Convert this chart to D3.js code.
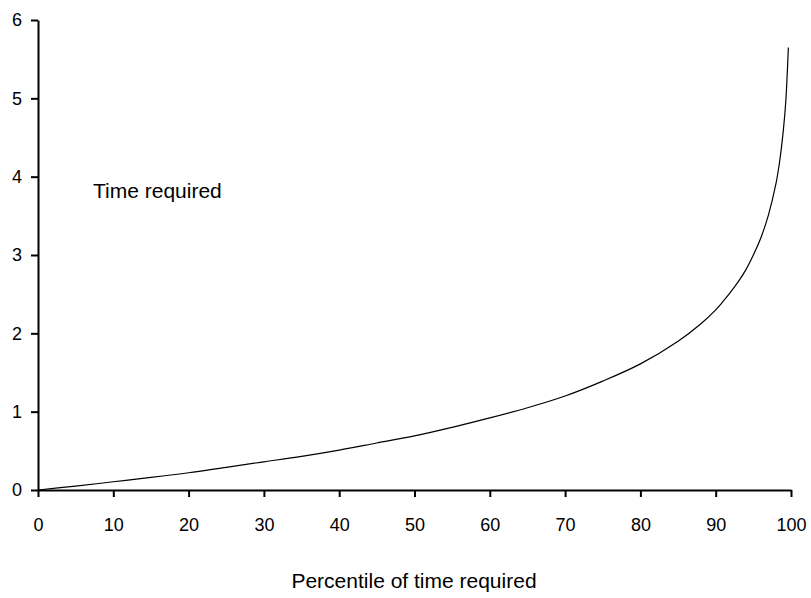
<!DOCTYPE html>
<html><head><meta charset="utf-8">
<script src="https://cdn.jsdelivr.net/npm/d3@7"></script>
<style>body{margin:0;background:#fff}svg{display:block}text{font-family:"Liberation Sans",Arial,sans-serif}</style>
</head><body><svg id="c" width="811" height="598"></svg>
<script>
const percentiles = [0,5,10,15,20,25,30,35,40,45,50,55,60,65,70,75,80,85,88,90,91,92,93,94,95,96,97,98,98.5,99,99.3,99.65];
const timeRequired = [0,0.05,0.105,0.16,0.22,0.29,0.36,0.43,0.51,0.60,0.69,0.80,0.92,1.05,1.20,1.39,1.61,1.90,2.12,2.30,2.41,2.53,2.66,2.81,3.00,3.22,3.51,3.91,4.20,4.61,4.95,5.65];
const xTicks = [0,10,20,30,40,50,60,70,80,90,100];
const yTicks = [0,1,2,3,4,5,6];
const seriesLabel = "Time required";
const xTitle = "Percentile of time required";

const svg = d3.select("#c");
const x = d3.scaleLinear().domain([0,100]).range([38,791]);
const y = d3.scaleLinear().domain([0,6]).range([490,20]);

const xa = svg.append("g").attr("transform","translate(0,490)")
  .call(d3.axisBottom(x).tickValues(xTicks).tickFormat(d3.format("d")).tickSize(7).tickPadding(21).tickSizeOuter(0));
const ya = svg.append("g").attr("transform","translate(38,0)")
  .call(d3.axisLeft(y).tickValues(yTicks).tickFormat(d3.format("d")).tickSize(7).tickPadding(9).tickSizeOuter(0));
[xa,ya].forEach(a=>{
  a.attr("font-size",18).attr("font-family","'Liberation Sans',Arial,sans-serif");
  a.selectAll("path,line").attr("stroke","#000").attr("stroke-width",2);
  a.selectAll("text").attr("fill","#000");
});

const line = d3.line().x((d,i)=>x(percentiles[i])).y(d=>y(d)).curve(d3.curveCatmullRom.alpha(0.5));
svg.append("path").attr("d",line(timeRequired)).attr("fill","none").attr("stroke","#000").attr("stroke-width",1.2);

svg.append("text").attr("x",93).attr("y",198).attr("font-size",21).text(seriesLabel);
svg.append("text").attr("x",414).attr("y",588).attr("text-anchor","middle").attr("font-size",21).text(xTitle);
</script></body></html>
